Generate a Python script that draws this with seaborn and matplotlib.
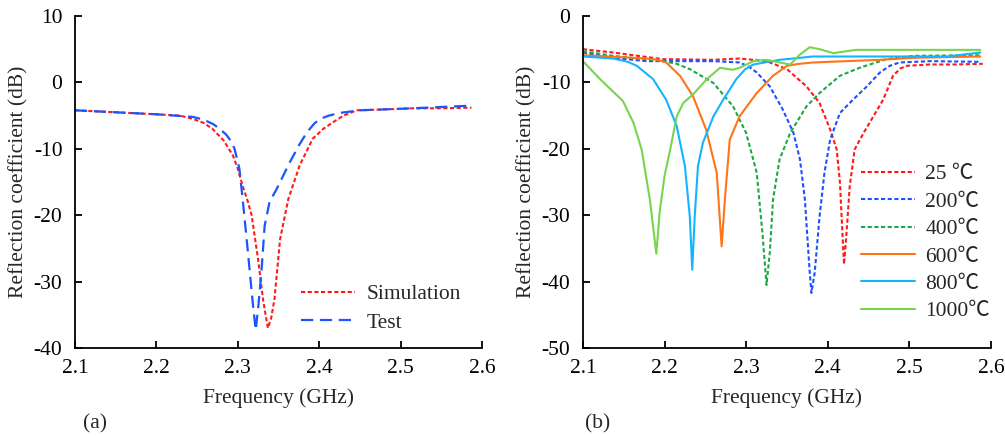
import numpy as np
import pandas as pd
import matplotlib
matplotlib.use("Agg")
import matplotlib.pyplot as plt
import seaborn as sns

# ---------- data: panel (a) ----------
sim_f = [2.10, 2.15, 2.20, 2.229, 2.245, 2.258, 2.269, 2.283, 2.294, 2.30, 2.306, 2.312, 2.317, 2.325,
         2.331, 2.337, 2.341, 2.345, 2.352, 2.362, 2.376, 2.392, 2.405, 2.417, 2.430, 2.446, 2.474,
         2.515, 2.55, 2.587]
sim_db = [-4.2, -4.5, -4.8, -5.0, -5.5, -6.1, -7.0, -8.8, -11.0, -13.0, -15.6, -17.8, -20.0, -26.7,
          -32.7, -37.0, -35.5, -32.7, -23.6, -17.6, -12.5, -8.5, -7.0, -6.0, -5.0, -4.2, -4.1,
          -3.9, -3.9, -3.8]
test_f = [2.10, 2.15, 2.20, 2.245, 2.258, 2.270, 2.278, 2.286, 2.292, 2.296, 2.302, 2.306, 2.312, 2.318,
          2.322, 2.325, 2.329, 2.333, 2.339, 2.348, 2.356, 2.364, 2.375, 2.385, 2.394, 2.401, 2.412,
          2.425, 2.450, 2.515, 2.55, 2.587]
test_db = [-4.2, -4.5, -4.8, -5.2, -5.6, -6.3, -7.0, -7.9, -8.9, -10.0, -13.0, -17.6, -25.0, -32.7,
           -37.3, -34.0, -28.6, -21.6, -18.0, -16.0, -14.0, -12.0, -9.5, -7.5, -6.2, -5.5, -5.0,
           -4.6, -4.2, -3.9, -3.7, -3.5]

# ---------- data: panel (b) ----------
t25_f = [2.10, 2.137, 2.198, 2.26, 2.292, 2.325, 2.35, 2.374, 2.39, 2.403, 2.411, 2.415, 2.418, 2.42,
         2.423, 2.427, 2.433, 2.444, 2.456, 2.468, 2.48, 2.489, 2.497, 2.525, 2.554, 2.59]
t25_db = [-5.0, -5.5, -6.5, -6.6, -6.4, -6.8, -8.0, -10.6, -13.1, -17.1, -20.1, -25.1, -32.7, -37.4,
          -32.7, -25.6, -20.1, -17.6, -15.1, -12.6, -9.0, -7.9, -7.5, -7.3, -7.3, -7.2]
t200_f = [2.10, 2.137, 2.178, 2.26, 2.292, 2.303, 2.313, 2.329, 2.345, 2.358, 2.366, 2.372, 2.378, 2.38,
          2.384, 2.39, 2.396, 2.403, 2.415, 2.431, 2.448, 2.464, 2.476, 2.488, 2.525, 2.587]
t200_db = [-5.5, -6.3, -6.8, -6.8, -7.0, -7.6, -8.5, -10.6, -14.1, -17.6, -21.6, -27.6, -38.7, -41.7,
           -38.7, -30.2, -23.6, -18.6, -14.6, -12.6, -10.6, -8.5, -7.5, -7.0, -6.8, -6.9]
t400_f = [2.10, 2.137, 2.198, 2.215, 2.231, 2.26, 2.284, 2.30, 2.313, 2.32, 2.325,
          2.329, 2.333, 2.341, 2.354, 2.374, 2.39, 2.415, 2.439, 2.472, 2.505, 2.587]
t400_db = [-5.3, -6.0, -6.8, -7.2, -8.0, -10.1, -13.6, -17.6, -23.6, -32.7, -40.5,
           -35.7, -27.6, -21.6, -17.6, -13.6, -11.6, -9.0, -7.8, -6.5, -6.0, -5.9]
t600_f = [2.10, 2.178, 2.192, 2.202, 2.219, 2.235, 2.251, 2.264, 2.27, 2.274, 2.28, 2.292, 2.313,
          2.333, 2.35, 2.365, 2.382, 2.464, 2.505, 2.587]
t600_db = [-5.9, -6.4, -6.6, -7.0, -9.0, -12.1, -17.1, -23.6, -34.7, -27.6, -18.6, -15.1, -11.6,
           -9.0, -7.5, -7.2, -7.0, -6.6, -6.3, -6.1]
t800_f = [2.10, 2.137, 2.155, 2.166, 2.186, 2.202, 2.215, 2.225, 2.231, 2.234, 2.237, 2.241, 2.247,
          2.26, 2.272, 2.288, 2.299, 2.309, 2.341, 2.382, 2.464, 2.546, 2.587]
t800_db = [-6.1, -6.4, -6.9, -7.5, -9.5, -12.6, -16.6, -22.6, -30.2, -38.2, -30.2, -22.6, -19.1,
           -15.1, -12.6, -9.5, -8.0, -7.3, -6.6, -6.1, -6.1, -6.1, -5.5]
t1000_f = [2.10, 2.121, 2.149, 2.162, 2.172, 2.182, 2.19, 2.194, 2.20, 2.207, 2.215, 2.223, 2.235,
           2.252, 2.268, 2.284, 2.292, 2.309, 2.325, 2.341, 2.354, 2.366, 2.378, 2.39, 2.407,
           2.423, 2.435, 2.505, 2.587]
t1000_db = [-6.8, -9.5, -12.8, -16.1, -20.1, -27.6, -35.8, -29.6, -24.1, -20.1, -15.1, -13.1, -11.8,
            -9.5, -7.8, -8.1, -7.8, -6.8, -6.6, -7.0, -7.3, -5.8, -4.7, -5.0, -5.6,
            -5.3, -5.1, -5.1, -5.1]

x_ticks = [2.1, 2.2, 2.3, 2.4, 2.5, 2.6]
ya_ticks = [10, 0, -10, -20, -30, -40]
yb_ticks = [0, -10, -20, -30, -40, -50]
temp_labels = ["25 \u2103", "200\u2103", "400\u2103", "600\u2103", "800\u2103", "1000\u2103"]

sns.set_theme(style="ticks")
plt.rcParams["font.family"] = ["Liberation Serif", "Noto Sans CJK SC", "DejaVu Sans"]

fig = plt.figure(figsize=(10.05, 4.36), dpi=100)
axa = fig.add_axes([0.0746, 0.2018, 0.405, 0.7615])
axb = fig.add_axes([0.580, 0.2018, 0.406, 0.7615])

dot = (0, (2.0, 1.2))
dash = (0, (5.5, 3.0))

sns.lineplot(x=sim_f, y=sim_db, ax=axa, color="#ff1a1a", lw=1.5, linestyle=dot,
             label="Simulation", sort=False, estimator=None)
sns.lineplot(x=test_f, y=test_db, ax=axa, color="#1a55ff", lw=1.6, linestyle=dash,
             label="Test", sort=False, estimator=None)

series = [(t25_f, t25_db, "#ff1a1a", dot), (t200_f, t200_db, "#1f4fff", dot),
          (t400_f, t400_db, "#1aaa44", dot), (t600_f, t600_db, "#ff7418", "-"),
          (t800_f, t800_db, "#14b4ff", "-"), (t1000_f, t1000_db, "#78d450", "-")]
for (f, d, c, ls), lab in zip(series, temp_labels):
    sns.lineplot(x=f, y=d, ax=axb, color=c, lw=1.5, linestyle=ls, label=lab,
                 sort=False, estimator=None)

FS = 15.5
for ax, yt in [(axa, ya_ticks), (axb, yb_ticks)]:
    ax.set_xlim(2.1, 2.6)
    ax.set_ylim(min(yt), max(yt))
    ax.set_xticks(x_ticks)
    ax.set_xticklabels([f"{v:.1f}" for v in x_ticks])
    ax.set_yticks(yt)
    ax.set_yticklabels([f"{v}" for v in yt])
    for s in ["top", "right"]:
        ax.spines[s].set_visible(False)
    for s in ["left", "bottom"]:
        ax.spines[s].set_linewidth(1.3)
        ax.spines[s].set_color("black")
    ax.tick_params(direction="in", length=5, width=1.3, labelsize=FS, colors="black")
    ax.tick_params(axis="y", pad=9)
    ax.tick_params(axis="x", pad=8)
    ax.set_xlabel("Frequency (GHz)", fontsize=FS, labelpad=7)
    ax.set_ylabel("Reflection coefficient (dB)", fontsize=FS, labelpad=4)
    ax.set_facecolor("white")

axa.legend(loc="lower right", bbox_to_anchor=(0.985, 0.0), frameon=False, fontsize=15.5,
           handlelength=2.5, handletextpad=0.55, labelspacing=0.4, borderaxespad=0.3)
axb.legend(loc="lower right", bbox_to_anchor=(1.035, 0.035), frameon=False, fontsize=15.5,
           handlelength=2.5, handletextpad=0.5, labelspacing=0.34, borderaxespad=0.3)

fig.text(95 / 1005, 1 - 424 / 436, "(a)", fontsize=FS, ha="center", va="center")
fig.text(598 / 1005, 1 - 424 / 436, "(b)", fontsize=FS, ha="center", va="center")

fig.savefig("out.png", dpi=100, facecolor="white")
